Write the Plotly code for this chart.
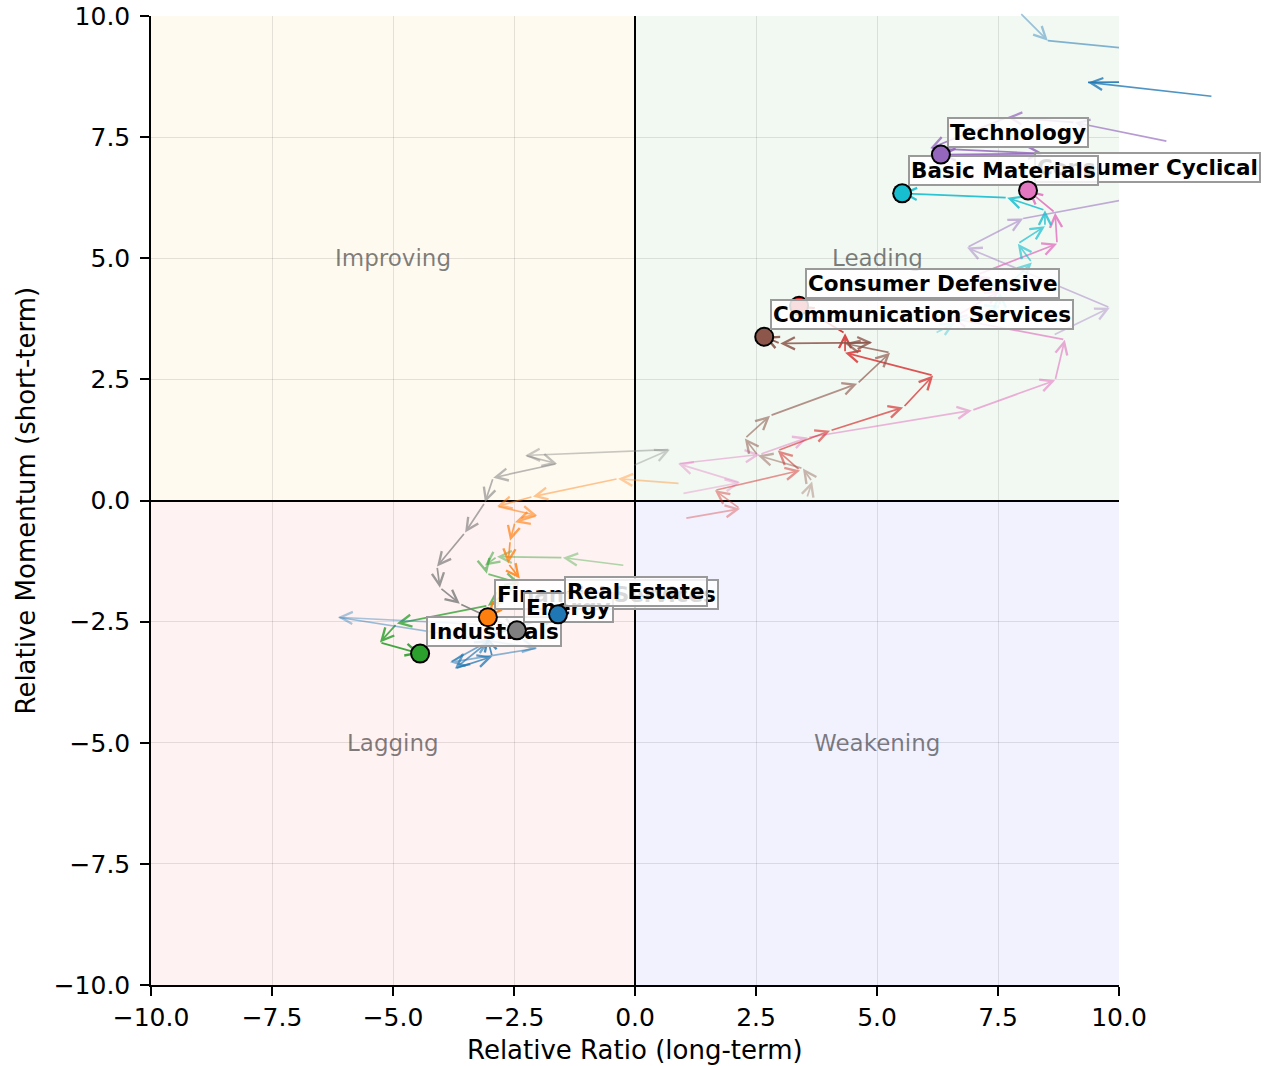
import plotly.graph_objects as go

# trail points, oldest first, last point = current position
util_x = [7.95, 8.53, 13.74, 11.94, 9.36, 14.77]
util_y = [10.07, 9.49, 8.98, 8.34, 8.63, 8.67]

te_x = [8.64, 9.81, 6.86, 8.02, 11.67, 11.01, 9.09, 7.69, 6.10, 8.43, 6.32]
te_y = [3.41, 3.98, 5.22, 5.82, 6.50, 7.41, 7.80, 7.91, 7.27, 7.16, 7.14]

cc_x = [0.97, 2.17, 0.89, 2.58, 3.57, 6.96, 8.68, 8.88, 6.55, 7.54, 7.02, 8.72, 8.68, 8.12]
cc_y = [0.14, 0.37, 0.76, 0.95, 1.30, 1.86, 2.48, 3.32, 3.76, 4.33, 4.64, 5.30, 5.94, 6.40]

bm_x = [6.20, 6.61, 7.54, 7.54, 8.20, 7.91, 8.47, 8.47, 7.69, 5.52]
bm_y = [3.45, 3.67, 4.02, 4.29, 4.91, 5.30, 5.66, 5.99, 6.25, 6.34]

cd_x = [1.03, 2.17, 1.65, 3.41, 2.95, 4.03, 5.54, 6.16, 4.34, 4.34, 3.39]
cd_y = [-0.37, -0.17, 0.21, 0.62, 1.03, 1.44, 1.92, 2.58, 3.05, 3.45, 4.02]

cs_x = [3.55, 3.66, 3.47, 2.54, 2.27, 2.79, 4.59, 5.27, 4.34, 4.90, 3.00, 2.67]
cs_y = [0.05, 0.39, 0.66, 0.93, 1.28, 1.75, 2.41, 3.05, 3.24, 3.26, 3.24, 3.38]

in_x = [-0.21, -1.49, -2.85, -3.10, -3.06, -2.38, -3.04, -4.92, -5.27, -4.44]
in_y = [-1.34, -1.18, -1.16, -1.34, -1.51, -1.71, -2.17, -2.54, -2.93, -3.16]

fs_x = [0.93, -0.35, -2.11, -2.85, -2.02, -2.48, -2.58, -2.62, -2.38, -3.04]
fs_y = [0.35, 0.45, 0.08, -0.12, -0.31, -0.45, -0.83, -1.30, -1.61, -2.41]

en_x = [-0.04, 0.72, -2.27, -1.61, -2.93, -3.10, -3.51, -4.09, -4.03, -3.62, -2.44]
en_y = [0.72, 1.05, 0.93, 0.76, 0.47, -0.04, -0.66, -1.36, -1.80, -2.13, -2.68]

re_x = [-3.20, -6.14, -2.02, -3.82, -3.00, -3.72, -2.95, -3.06, -1.59]
re_y = [-2.56, -2.41, -3.05, -3.34, -2.89, -3.47, -3.22, -2.81, -2.35]

sectors = {
    "Utilities": ("#1f77b4", util_x, util_y),
    "Technology": ("#9467bd", te_x, te_y),
    "Consumer Cyclical": ("#e377c2", cc_x, cc_y),
    "Basic Materials": ("#17becf", bm_x, bm_y),
    "Consumer Defensive": ("#d62728", cd_x, cd_y),
    "Communication Services": ("#8c564b", cs_x, cs_y),
    "Industrials": ("#2ca02c", in_x, in_y),
    "Financial Services": ("#ff7f0e", fs_x, fs_y),
    "Energy": ("#7f7f7f", en_x, en_y),
    "Real Estate": ("#1f77b4", re_x, re_y),
}

# stacking of end markers / name boxes (later = on top)
draw_order = [
    ("Consumer Cyclical", "label"), ("Basic Materials", "label"),
    ("Consumer Cyclical", "marker"), ("Basic Materials", "marker"),
    ("Technology", "label"), ("Technology", "marker"),
    ("Consumer Defensive", "marker"), ("Consumer Defensive", "label"),
    ("Communication Services", "marker"), ("Communication Services", "label"),
    ("Industrials", "label"), ("Industrials", "marker"),
    ("Financial Services", "label"), ("Financial Services", "marker"),
    ("Energy", "label"), ("Energy", "marker"),
    ("Real Estate", "label"), ("Real Estate", "marker"),
]

quadrants = ["Improving", "Leading", "Lagging", "Weakening"]
quad_x = [-5, 5, -5, 5]
quad_y = [5, 5, -5, -5]
quad_fill = ["rgba(255,165,0,0.06)", "rgba(0,128,0,0.05)",
             "rgba(255,0,0,0.05)", "rgba(0,0,255,0.05)"]

LIM = 10
FONT = "DejaVu Sans"


def rgba(hex_color, a):
    h = hex_color.lstrip("#")
    r, g, b = int(h[0:2], 16), int(h[2:4], 16), int(h[4:6], 16)
    return f"rgba({r},{g},{b},{a:.2f})"


def inside(x, y):
    return -LIM <= x <= LIM and -LIM <= y <= LIM


fig = go.Figure()
arrows = []

for name, (color, xs, ys) in sectors.items():
    n = len(xs)
    for i in range(n - 1):
        a = 0.3 + 0.6 * (i + 1) / (n - 1)
        c = rgba(color, a)
        if inside(xs[i + 1], ys[i + 1]):
            arrows.append(dict(
                x=xs[i + 1], y=ys[i + 1], ax=xs[i], ay=ys[i],
                xref="x", yref="y", axref="x", ayref="y",
                text="", showarrow=True, arrowhead=5, arrowsize=1.4,
                arrowwidth=1.7, arrowcolor=c,
            ))
        else:
            fig.add_trace(go.Scatter(
                x=xs[i:i + 2], y=ys[i:i + 2], mode="lines",
                line=dict(color=c, width=1.7),
                hoverinfo="skip", showlegend=False,
            ))


def dot(x, y, color, size):
    # round arrow head used as an end marker so it can stack with the boxes
    return dict(x=x, y=y, xref="x", yref="y", ax=-7, ay=0, text="",
                font=dict(size=1), showarrow=True, arrowhead=6,
                arrowwidth=2, arrowsize=size, arrowcolor=color)


top = []
for name, kind in draw_order:
    color, xs, ys = sectors[name]
    if not inside(xs[-1], ys[-1]):
        continue
    if kind == "marker":
        top.append(dot(xs[-1], ys[-1], "black", 2.5))
        top.append(dot(xs[-1], ys[-1], color, 2.0))
    else:
        top.append(dict(
            x=xs[-1], y=ys[-1], xref="x", yref="y", text=f"<b>{name}</b>",
            showarrow=False, xanchor="left", yanchor="bottom",
            xshift=6, yshift=7,
            font=dict(family=FONT, size=21.5, color="black"),
            bgcolor="rgba(255,255,255,0.85)", bordercolor="#9a9a9a",
            borderwidth=2, borderpad=1,
        ))

quad_labels = [
    dict(x=qx, y=qy, xref="x", yref="y", text=q, showarrow=False,
         font=dict(family=FONT, size=23, color="rgba(0,0,0,0.5)"))
    for q, qx, qy in zip(quadrants, quad_x, quad_y)
]

axis_titles = [
    dict(x=0.5, y=0, xref="paper", yref="paper", yshift=-65,
         text="Relative Ratio (long-term)", showarrow=False,
         xanchor="center", yanchor="middle",
         font=dict(family=FONT, size=26, color="black")),
    dict(x=0, y=0.5, xref="paper", yref="paper", xshift=-126,
         text="Relative Momentum (short-term)", showarrow=False,
         textangle=-90, xanchor="center", yanchor="middle",
         font=dict(family=FONT, size=26, color="black")),
]

shapes = []
for fill, qx, qy in zip(quad_fill, quad_x, quad_y):
    x0, x1 = (0, LIM) if qx > 0 else (-LIM, 0)
    y0, y1 = (0, LIM) if qy > 0 else (-LIM, 0)
    shapes.append(dict(type="rect", xref="x", yref="y", x0=x0, x1=x1,
                       y0=y0, y1=y1, fillcolor=fill, line=dict(width=0),
                       layer="below"))

axis_style = dict(
    range=[-LIM, LIM], dtick=2.5, tick0=0, tickformat=".1f",
    showgrid=True, gridcolor="rgba(0,0,0,0.1)", gridwidth=1,
    zeroline=True, zerolinecolor="black", zerolinewidth=2,
    showline=True, linecolor="black", linewidth=1.5, mirror=False,
    ticks="outside", ticklen=9, tickwidth=1.5, tickcolor="black",
    tickfont=dict(family=FONT, size=25, color="black"),
    automargin=False, ticklabeloverflow="allow",
)

fig.update_layout(
    width=1267, height=1066,
    margin=dict(l=151, r=148, t=16, b=81),
    paper_bgcolor="white", plot_bgcolor="white",
    font=dict(family=FONT, color="black"),
    shapes=shapes,
    annotations=quad_labels + axis_titles + arrows + top,
    xaxis=axis_style,
    yaxis=dict(**axis_style, ticklabelstandoff=5),
)

fig.write_html("out.html", config={"displayModeBar": False},
               post_script="document.body.style.margin='0px';")
